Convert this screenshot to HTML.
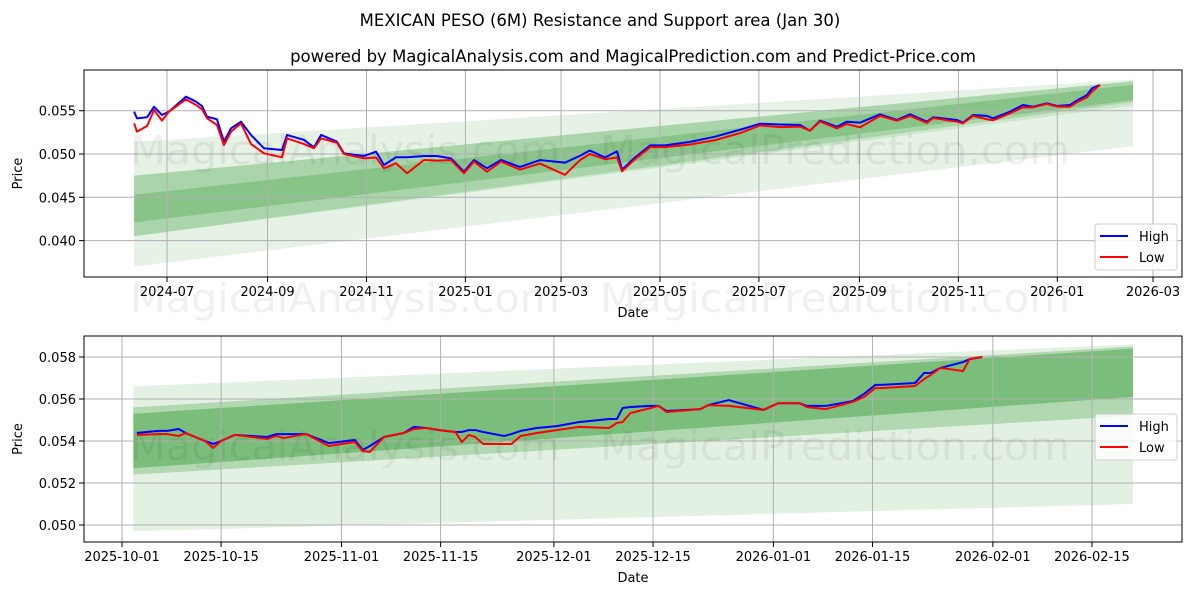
<!DOCTYPE html>
<html><head><meta charset="utf-8"><style>
body{margin:0;background:#fff;}
svg{display:block;font-family:"DejaVu Sans","Liberation Sans",sans-serif;}
</style></head><body>
<svg id="chart" width="1200" height="600" viewBox="0 0 1200 600">
<text x="600" y="26" text-anchor="middle" font-size="16.5">MEXICAN PESO (6M) Resistance and Support area (Jan 30)</text>
<text x="633" y="62" text-anchor="middle" font-size="16.5">powered by MagicalAnalysis.com and MagicalPrediction.com and Predict-Price.com</text>
<g id="top"></g>
<g id="bot"></g>
</svg>
<script>
// ---- top chart data (days since 2024-07-01) ----
const topDays=[-20.3,-18.5,-12.3,-8.0,-3.1,1.2,11.7,17.9,21.6,24.7,30.8,35.1,39.5,45.6,51.8,59.8,70.9,74.0,84.5,90.6,95.0,104.8,109.1,121.5,128.9,133.8,141.2,148.0,158.5,166.5,175.1,183.1,189.3,197.3,206.0,217.7,230.0,245.4,254.7,260.8,270.1,277.5,280.6,288.6,298.0,307.1,322.5,337.9,353.3,365.7,378.0,390.3,396.5,402.7,413.1,419.3,427.3,439.7,450.1,458.2,468.6,472.4,487.1,490.8,497.0,505.6,509.4,519.8,527.8,534.0,542.6,548.8,556.8,561.7,567.3,570.4,575.3];
const topHigh=[.05489,.05412,.05424,.05546,.0545,.05489,.05662,.05604,.05554,.0543,.05401,.05142,.05297,.05373,.0522,.05066,.05046,.0522,.05162,.05077,.0522,.05142,.05008,.04977,.05027,.04873,.04962,.04962,.04977,.04977,.0495,.04796,.04931,.04835,.04931,.0485,.0493,.0490,.0498,.0504,.0496,.0503,.0482,.0496,.0510,.0510,.0514,.0520,.0528,.0535,.0534,.05335,.05269,.05385,.05315,.05373,.05362,.05458,.05393,.05458,.05373,.05424,.05393,.05362,.0545,.0544,.05412,.05489,.05566,.05546,.05585,.05554,.05566,.05624,.05681,.05758,.05797];
const topLow=[.05354,.05258,.05323,.05508,.05385,.05489,.05631,.05566,.05516,.05412,.05335,.05104,.05258,.05354,.05115,.05008,.04962,.05181,.05115,.05066,.05181,.0513,.0500,.0495,.0496,.04835,.04893,.04777,.04931,.04923,.04931,.04777,.04912,.04796,.04912,.0482,.0489,.0476,.0493,.0500,.0494,.0496,.0480,.0494,.0508,.0508,.0511,.0516,.0524,.0533,.0531,.05316,.05269,.05375,.05297,.05346,.05308,.0544,.05385,.0544,.05360,.05415,.05373,.05354,.0544,.05401,.05389,.0547,.05539,.05539,.05578,.05548,.05546,.05604,.05654,.0572,.05797];
const topTickLabels=["2024-07","2024-09","2024-11","2025-01","2025-03","2025-05","2025-07","2025-09","2025-11","2026-01","2026-03"];
const topTickDays=[0,62,123,184,243,304,365,427,488,549,608];
const topYTicks=[0.040,0.045,0.050,0.055];
const topBandStart=-20.3, topBandEnd=595.7;
const topBandLo0=[0.0370,0.0405,0.0405,0.0421];
const topBandHi0=[0.0475,0.0514,0.0475,0.0453];
const topBandLo1=[0.0509,0.0556,0.0560,0.0562];
const topBandHi1=[0.0584,0.0586,0.0584,0.0580];
const topBandAlpha=[0.1,0.1,0.17,0.2];

// ---- bottom chart data (days since 2025-10-01) ----
const botDays=[2.1,5.1,6.4,8.0,9.0,11.7,12.9,14.0,15.9,20.5,21.8,22.8,26.0,29.2,32.9,34.0,35.0,37.0,39.8,41.2,43.0,44.8,47.1,48.0,49.0,49.9,51.0,54.0,55.0,56.3,58.6,61.4,64.5,68.8,69.9,70.7,71.8,74.7,75.8,76.9,81.7,82.8,85.7,90.6,92.7,95.7,96.7,99.4,103.2,104.8,106.4,107.2,112.0,113.3,114.2,115.6,118.8,119.7,121.5];
const botHigh=[.05438,.05448,.05448,.05457,.05438,.0540,.05386,.0540,.05429,.05419,.05433,.05433,.05433,.0539,.05405,.05357,.05376,.05419,.05438,.05467,.05462,.05452,.05443,.05443,.05452,.05452,.05443,.05424,.05433,.05448,.05462,.05471,.0549,.05505,.05505,.05557,.05562,.05567,.05567,.05543,.05552,.05571,.05595,.05548,.0558,.0558,.05567,.05567,.0559,.05624,.05667,.05667,.05676,.05724,.05724,.05748,.05776,.0579,.0580];
const botLow=[.05429,.05433,.05433,.05424,.05438,.0540,.05367,.0540,.05429,.0541,.05424,.05414,.05433,.05376,.05395,.05352,.05348,.05419,.05438,.05457,.05462,.05452,.05443,.05395,.05429,.05419,.05386,.05386,.05386,.05424,.05438,.05452,.05467,.05462,.05486,.0549,.05533,.05557,.05567,.05538,.05552,.05571,.05567,.05548,.0558,.0558,.05562,.05552,.05586,.0561,.05652,.05652,.05662,.05695,.05714,.05748,.05733,.0579,.0580];
const botTickLabels=["2025-10-01","2025-10-15","2025-11-01","2025-11-15","2025-12-01","2025-12-15","2026-01-01","2026-01-15","2026-02-01","2026-02-15"];
const botTickDays=[0,14,31,45,61,75,92,106,123,137];
const botYTicks=[0.050,0.052,0.054,0.056,0.058];
const botBandStart=1.6, botBandEnd=142.8;
const botBandLo0=[0.0497,0.0524,0.0527];
const botBandHi0=[0.0566,0.0556,0.0553];
const botBandLo1=[0.0510,0.0552,0.0561];
const botBandHi1=[0.0586,0.0585,0.0584];
const botBandAlpha=[0.11,0.22,0.3];

const NS="http://www.w3.org/2000/svg";
function mk(parent,tag,attrs,text){const e=document.createElementNS(NS,tag);for(const k in attrs)e.setAttribute(k,attrs[k]);if(text!==undefined)e.textContent=text;parent.appendChild(e);return e;}

function drawPanel(g,cfg){
  const {x0,x1,y0,y1,xs,ys}=cfg;
  for(let i=0;i<cfg.lo0.length;i++){
    const xa=xs(cfg.bs),xb=xs(cfg.be);
    const p=mk(g,"polygon",{points:`${xa},${ys(cfg.hi0[i])} ${xb},${ys(cfg.hi1[i])} ${xb},${ys(cfg.lo1[i])} ${xa},${ys(cfg.lo0[i])}`,fill:"rgb(0,128,0)","fill-opacity":cfg.alpha[i]});
    
    
  }
  cfg.xt.forEach((d,i)=>{
    const x=xs(d);
    const l=mk(g,"line",{x1:x,x2:x,y1:y0,y2:y1,stroke:"#b0b0b0","stroke-width":1});
    
    
    mk(g,"line",{x1:x,x2:x,y1:y1,y2:y1+5,stroke:"#000"});
    const t=mk(g,"text",{x:x,y:y1+19,"text-anchor":"middle","font-size":13},cfg.xl[i]);
    
    
  });
  cfg.yt.forEach(v=>{
    const y=ys(v);
    const l=mk(g,"line",{x1:x0,x2:x1,y1:y,y2:y,stroke:"#b0b0b0","stroke-width":1});
    
    
    mk(g,"line",{x1:x0-5,x2:x0,y1:y,y2:y,stroke:"#000"});
    const t=mk(g,"text",{x:x0-8,y:y+5,"text-anchor":"end","font-size":13},v.toFixed(3));
    
    
  });
  cfg.wm.forEach(w=>{
    const t=mk(g,"text",{x:w[0],y:w[1],"font-size":40,fill:"#000","fill-opacity":0.06,textLength:w[3],lengthAdjust:"spacingAndGlyphs"},w[2]);
    
    
  });
  const ph=cfg.days.map((d,i)=>`${xs(d)},${ys(cfg.high[i])}`).join(" ");
  const pl=cfg.days.map((d,i)=>`${xs(d)},${ys(cfg.low[i])}`).join(" ");
  const lh=mk(g,"polyline",{points:ph,fill:"none",stroke:"#0000ff","stroke-width":2,"stroke-linejoin":"round"});
  
  
  const ll=mk(g,"polyline",{points:pl,fill:"none",stroke:"#ff0000","stroke-width":2,"stroke-linejoin":"round"});
  
  
  const fr=mk(g,"rect",{x:x0,y:y0,width:x1-x0,height:y1-y0,fill:"none",stroke:"#000","stroke-width":1});
  
  
  const yl=mk(g,"text",{x:0,y:0,"font-size":13,"text-anchor":"middle",transform:`translate(${x0-62},${(y0+y1)/2}) rotate(-90)`},"Price");
  
  
  const xl=mk(g,"text",{x:(x0+x1)/2,y:y1+40,"font-size":13,"text-anchor":"middle"},"Date");
  
  
  const lg=mk(g,"g",{});
  
  
  const ly=cfg.legY;
  mk(lg,"rect",{x:1095,y:ly,width:82,height:46,rx:3,fill:"#fff","fill-opacity":0.8,stroke:"#ccc"});
  mk(lg,"line",{x1:1100,x2:1128,y1:ly+12,y2:ly+12,stroke:"#0000ff","stroke-width":2});
  const e1=mk(lg,"text",{x:1139,y:ly+17,"font-size":13},"High");
  
  
  mk(lg,"line",{x1:1100,x2:1128,y1:ly+33,y2:ly+33,stroke:"#ff0000","stroke-width":2});
  const e2=mk(lg,"text",{x:1139,y:ly+38,"font-size":13},"Low");
  
  
}

drawPanel(document.getElementById("top"),{
  x0:84,x1:1182,y0:70,y1:277,
  xs:d=>167+d*1.6217, ys:v=>154-(v-0.050)*8660,
  days:topDays,high:topHigh,low:topLow,
  xt:topTickDays,xl:topTickLabels,yt:topYTicks,
  bs:topBandStart,be:topBandEnd,lo0:topBandLo0,hi0:topBandHi0,lo1:topBandLo1,hi1:topBandHi1,alpha:topBandAlpha,
  wm:[[130,164,"MagicalAnalysis.com",430],[600,164,"MagicalPrediction.com",470],[130,312,"MagicalAnalysis.com",430],[600,312,"MagicalPrediction.com",470]],
  legY:224
});
drawPanel(document.getElementById("bot"),{
  x0:84,x1:1182,y0:336,y1:542,
  xs:d=>122+d*7.08, ys:v=>525-(v-0.050)*21000,
  days:botDays,high:botHigh,low:botLow,
  xt:botTickDays,xl:botTickLabels,yt:botYTicks,
  bs:botBandStart,be:botBandEnd,lo0:botBandLo0,hi0:botBandHi0,lo1:botBandLo1,hi1:botBandHi1,alpha:botBandAlpha,
  wm:[[130,460,"MagicalAnalysis.com",430],[600,460,"MagicalPrediction.com",470]],
  legY:414
});
</script>
</body></html>
